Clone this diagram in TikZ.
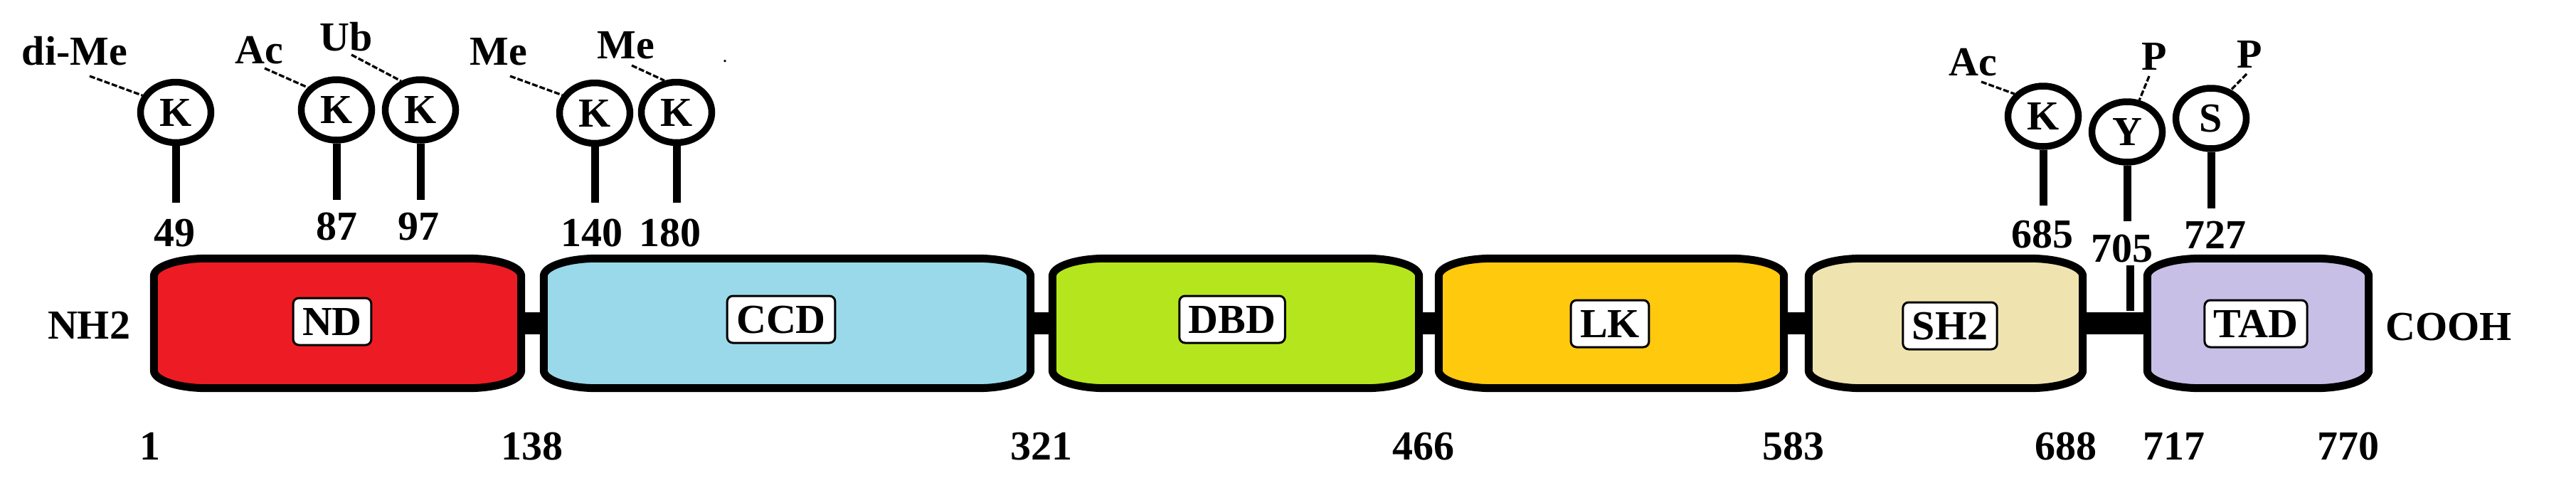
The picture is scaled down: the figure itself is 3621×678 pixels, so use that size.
\documentclass[tikz,border=0pt]{standalone}
\usepackage{fontspec}
\setmainfont{Liberation Serif}
\usetikzlibrary{shapes.geometric}
\definecolor{ndred}{HTML}{ED1C24}
\definecolor{ccdblue}{HTML}{99D9EA}
\definecolor{dbdgreen}{HTML}{B5E61D}
\definecolor{lkyellow}{HTML}{FFC90E}
\definecolor{shtan}{HTML}{EFE4B0}
\definecolor{tadlilac}{HTML}{C8BFE7}
\newcommand{\roundbox}[2]{%
  \filldraw[fill=#2, draw=black, line width=11pt]
   ([xshift=75pt]#1.north west) -- ([xshift=-75pt]#1.north east)
   arc[start angle=90, end angle=0, x radius=75pt, y radius=25pt]
   -- ([yshift=25pt]#1.south east)
   arc[start angle=0, end angle=-90, x radius=75pt, y radius=25pt]
   -- ([xshift=75pt]#1.south west)
   arc[start angle=270, end angle=180, x radius=75pt, y radius=25pt]
   -- ([yshift=-25pt]#1.north west)
   arc[start angle=180, end angle=90, x radius=75pt, y radius=25pt]
   -- cycle;}
\begin{document}
\begin{tikzpicture}[x=1pt,y=1pt,
  bigfont/.style={font=\fontsize{58}{60}\selectfont\bfseries},
  lbl/.style={bigfont, inner sep=0pt, anchor=base},
  site/.style={ellipse, draw=black, line width=9.5pt, fill=white,
    minimum width=99pt, minimum height=85pt, inner sep=0pt, bigfont,
    text height=38pt, text depth=0pt},
  stem/.style={line width=11pt},
  leader/.style={line width=3.3pt, dash pattern=on 8pt off 3pt},
  linker/.style={line width=31pt},
  dombox/.style={rectangle, inner sep=0pt, minimum height=182pt},
  dlabel/.style={draw=black, line width=3pt, fill=white, rounded corners=8pt,
    inner xsep=13pt, inner ysep=14pt, bigfont, text height=38pt, text depth=0pt}
]
\useasboundingbox (0,0) rectangle (3621,-678);

% domain anchors
\node[dombox, minimum width=516pt] (nd)  at (474.5,-454.5) {};
\node[dombox, minimum width=684pt] (ccd) at (1106.5,-454.5) {};
\node[dombox, minimum width=515pt] (dbd) at (1737,-454.5) {};
\node[dombox, minimum width=485pt] (lk)  at (2265,-454.5) {};
\node[dombox, minimum width=385pt] (sh)  at (2735,-454.5) {};
\node[dombox, minimum width=311pt] (tad) at (3174,-454.5) {};

% linkers
\draw[linker] (nd.center) -- (ccd.center);
\draw[linker] (ccd.center) -- (dbd.center);
\draw[linker] (dbd.center) -- (lk.center);
\draw[linker] (lk.center) -- (sh.center);
\draw[linker] (sh.center) -- (tad.center);

% domain shapes
\roundbox{nd}{ndred}
\roundbox{ccd}{ccdblue}
\roundbox{dbd}{dbdgreen}
\roundbox{lk}{lkyellow}
\roundbox{sh}{shtan}
\roundbox{tad}{tadlilac}

% domain labels
\node[dlabel] (lnd)  at (467,-452)  {ND};
\node[dlabel] (lccd) at (1098,-449) {CCD};
\node[dlabel] (ldbd) at (1732,-449) {DBD};
\node[dlabel] (llk)  at (2263,-455) {LK};
\node[dlabel] (lsh)  at (2741,-458) {SH2};
\node[dlabel] (ltad) at (3171,-455) {TAD};

% termini
\node[lbl] (nh2)  at (125,-476)  {NH2};
\node[lbl] (cooh) at (3442,-478) {COOH};

% boundary numbers
\node[lbl] (b1)   at (211,-646)  {1};
\node[lbl] (b138) at (748,-646)  {138};
\node[lbl] (b321) at (1464,-646) {321};
\node[lbl] (b466) at (2001,-646) {466};
\node[lbl] (b583) at (2521,-646) {583};
\node[lbl] (b688) at (2904,-646) {688};
\node[lbl] (b717) at (3056,-646) {717};
\node[lbl] (b770) at (3301,-646) {770};

% stem ends
\coordinate (s49)  at (247,-285);
\coordinate (s87)  at (473,-281);
\coordinate (s97)  at (591,-281);
\coordinate (s140) at (836,-285);
\coordinate (s180) at (951,-285);
\coordinate (s685) at (2872,-289);
\coordinate (s705) at (2990,-311);
\coordinate (s727) at (3108,-293);
\coordinate (t705a) at (2994,-373);
\coordinate (t705b) at (2994,-437);

% sites
\node[site] (k49)  at (247,-158)   {K};
\node[site] (k87)  at (473,-154.5) {K};
\node[site] (k97)  at (591,-154.5) {K};
\node[site] (k140) at (836,-159)   {K};
\node[site] (k180) at (951,-158)   {K};
\node[site] (k685) at (2872,-163.5) {K};
\node[site] (y705) at (2990,-185.5) {Y};
\node[site] (s727n) at (3108,-166.5) {S};

\draw[stem] (k49.south) -- (s49);
\draw[stem] (k87.south) -- (s87);
\draw[stem] (k97.south) -- (s97);
\draw[stem] (k140.south) -- (s140);
\draw[stem] (k180.south) -- (s180);
\draw[stem] (k685.south) -- (s685);
\draw[stem] (y705.south) -- (s705);
\draw[stem] (s727n.south) -- (s727);
\draw[stem] (t705a) -- (t705b);

% residue numbers
\node[lbl] (n49)  at (245,-346)  {49};
\node[lbl] (n87)  at (473,-337)  {87};
\node[lbl] (n97)  at (588,-337)  {97};
\node[lbl] (n140) at (832,-346)  {140};
\node[lbl] (n180) at (942,-346)  {180};
\node[lbl] (n685) at (2871,-348) {685};
\node[lbl] (n705) at (2983,-368) {705};
\node[lbl] (n727) at (3114,-349) {727};

% modification labels
\node[lbl] (m49)  at (105,-91)  {di-Me};
\node[lbl] (m87)  at (364,-89)  {Ac};
\node[lbl] (m97)  at (487,-71)  {Ub};
\node[lbl] (m140) at (701,-91)  {Me};
\node[lbl] (m180) at (880,-82)  {Me};
\node[lbl] (m685) at (2773,-106) {Ac};
\node[lbl] (m705) at (3028,-98) {P};
\node[lbl] (m727) at (3162,-95) {P};
\node[font=\fontsize{20}{20}\selectfont\bfseries, inner sep=0pt, anchor=base] (dot) at (1019,-87) {.};

% leader start points
\coordinate (c49)  at (126,-107);
\coordinate (c87)  at (372,-96);
\coordinate (c97)  at (494,-77);
\coordinate (c140) at (717,-107);
\coordinate (c180) at (888,-92);
\coordinate (c685) at (2785,-115);
\coordinate (c705) at (3021,-107);
\coordinate (c727) at (3158,-104);

\draw[leader] (c49) -- (k49.153);
\draw[leader] (c87) -- (k87.142);
\draw[leader] (c97) -- (k97.124);
\draw[leader] (c140) -- (k140.151);
\draw[leader] (c180) -- (k180.111);
\draw[leader] (c685) -- (k685.142);
\draw[leader] (c705) -- (y705.69);
\draw[leader] (c727) -- (s727n.55);
\end{tikzpicture}
\end{document}
